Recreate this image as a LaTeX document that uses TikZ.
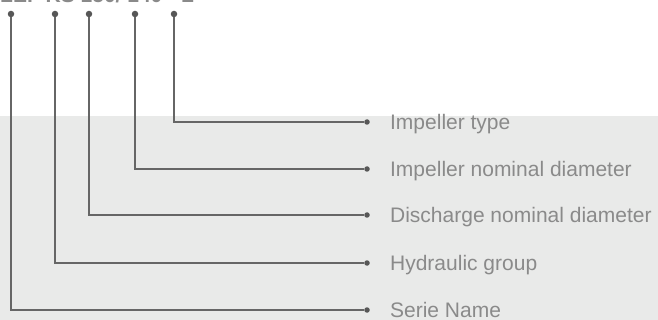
\documentclass[tikz,border=0pt]{standalone}
\usepackage{fontspec}
\setmainfont{Liberation Sans}
\usetikzlibrary{positioning}

\definecolor{bandgray}{HTML}{E9EAE9}
\definecolor{leadgray}{HTML}{666666}
\definecolor{textgray}{HTML}{8A8A8A}

\begin{document}
\begin{tikzpicture}[x=1pt, y=-1pt,
    lead/.style={draw=leadgray, line width=1.5pt},
    pindot/.style={circle, fill=leadgray!85!black, inner sep=0pt, minimum size=6.5pt},
    enddot/.style={circle, fill=leadgray!85!black, inner sep=0pt, minimum size=5.5pt},
    lbl/.style={text=textgray, font=\fontsize{21}{24}\selectfont, anchor=west, inner sep=0pt, text depth=0pt}]
  \useasboundingbox (0,0) rectangle (658,320);
  \clip (0,0) rectangle (658,320);

  % Background band
  \fill[bandgray] (0,116) rectangle (658,320);

  % Code (cut at the top)
  \node[text=textgray, font=\fontsize{21}{24}\selectfont\bfseries, anchor=base west, inner sep=0pt] (code) at (0,3) {LEF KS 150/ 140 - L};

  % Pins under the code
  \node[pindot] (p1) at (11,14) {};
  \node[pindot] (p2) at (55,14) {};
  \node[pindot] (p3) at (89,14) {};
  \node[pindot] (p4) at (135,14) {};
  \node[pindot] (p5) at (174,14) {};

  % End points
  \node[enddot] (e5) at (367,122) {};
  \node[enddot] (e4) at (367,169) {};
  \node[enddot] (e3) at (367,215) {};
  \node[enddot] (e2) at (367,263) {};
  \node[enddot] (e1) at (367,310) {};

  % Leads
  \draw[lead] (p1) |- (e1);
  \draw[lead] (p2) |- (e2);
  \draw[lead] (p3) |- (e3);
  \draw[lead] (p4) |- (e4);
  \draw[lead] (p5) |- (e5);

  % Labels
  \node[lbl, right=20pt of e5] (l5) {Impeller type};
  \node[lbl, right=20pt of e4] (l4) {Impeller nominal diameter};
  \node[lbl, right=20pt of e3] (l3) {Discharge nominal diameter};
  \node[lbl, right=20pt of e2] (l2) {Hydraulic group};
  \node[lbl, right=20pt of e1] (l1) {Serie Name};
\end{tikzpicture}
\end{document}
